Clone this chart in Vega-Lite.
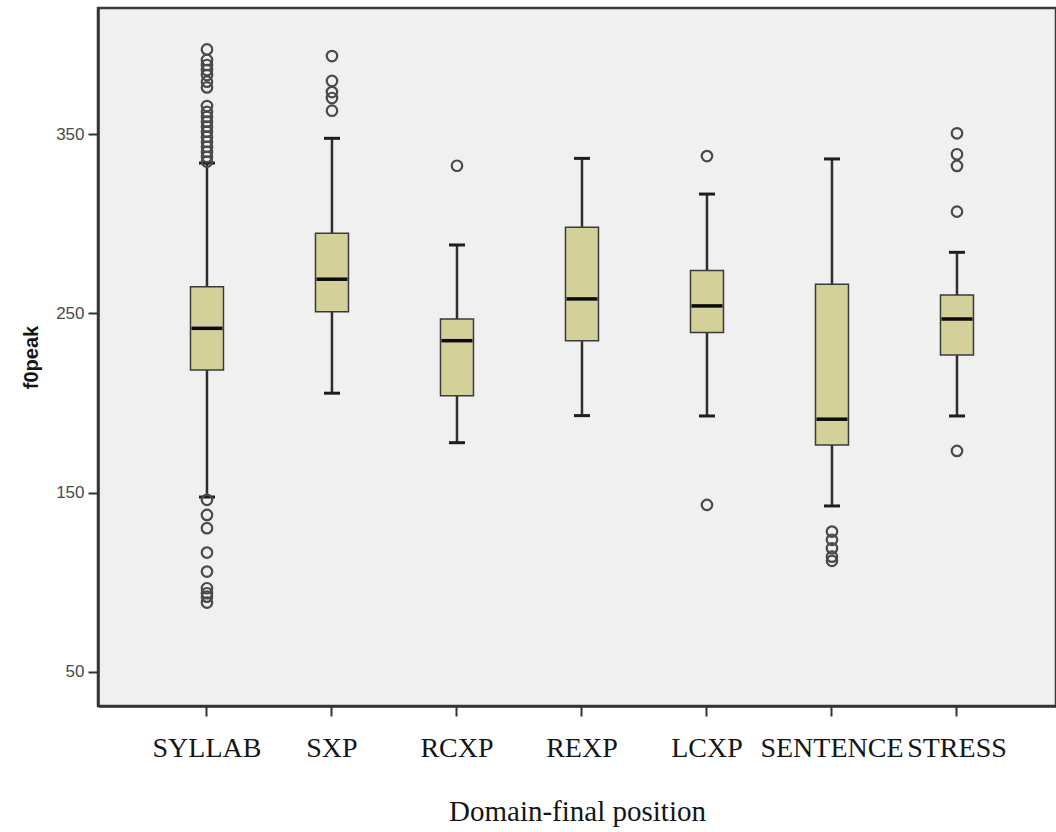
{
  "$schema": "https://vega.github.io/schema/vega-lite/v6.json",
  "autosize": {"type": "none"},
  "padding": {"left": 98, "top": 8, "right": 0, "bottom": 126},
  "width": 958,
  "height": 698,
  "background": "white",
  "config": {
    "view": {"fill": "#F0F0F0", "stroke": "#3a3a3a", "strokeWidth": 2.5},
    "axis": {"grid": false},
    "axisX": {
      "domainColor": "#333333", "domainWidth": 2.5,
      "tickColor": "#333333", "tickWidth": 2, "tickSize": 10,
      "labelFont": "Liberation Serif", "labelFontSize": 28, "labelColor": "#151515",
      "labelPadding": 18, "labelAngle": 0, "labelOverlap": false, "labelLimit": 300,
      "titleFont": "Liberation Serif", "titleFontSize": 29, "titleFontWeight": "normal",
      "titleColor": "#151515", "titlePadding": 35
    },
    "axisY": {
      "domainColor": "#333333", "domainWidth": 2.5,
      "tickColor": "#333333", "tickWidth": 2, "tickSize": 10,
      "labelFont": "Liberation Sans", "labelFontSize": 17, "labelColor": "#4a4a4a",
      "labelPadding": 4,
      "titleFont": "Liberation Sans", "titleFontSize": 20, "titleFontWeight": "bold",
      "titleColor": "#151515", "titlePadding": 14
    }
  },
  "datasets": {
    "stats": [
      {"group": "SYLLAB", "lower": 147.5, "q1": 218.4, "median": 241.6, "q3": 264.8, "upper": 333.8},
      {"group": "SXP", "lower": 205.4, "q1": 250.9, "median": 269.0, "q3": 294.6, "upper": 347.6},
      {"group": "RCXP", "lower": 177.8, "q1": 204.0, "median": 234.7, "q3": 246.8, "upper": 288.1},
      {"group": "REXP", "lower": 192.9, "q1": 234.6, "median": 258.0, "q3": 298.0, "upper": 336.4},
      {"group": "LCXP", "lower": 192.7, "q1": 239.2, "median": 254.1, "q3": 273.8, "upper": 316.5},
      {"group": "SENTENCE", "lower": 142.5, "q1": 176.5, "median": 190.9, "q3": 266.2, "upper": 336.1},
      {"group": "STRESS", "lower": 192.7, "q1": 226.7, "median": 246.8, "q3": 260.2, "upper": 284.0}
    ],
    "outliers": [
      {"group": "SYLLAB", "value": 397.2},
      {"group": "SYLLAB", "value": 391.3},
      {"group": "SYLLAB", "value": 388.5},
      {"group": "SYLLAB", "value": 385.7},
      {"group": "SYLLAB", "value": 382.9},
      {"group": "SYLLAB", "value": 379.2},
      {"group": "SYLLAB", "value": 376.0},
      {"group": "SYLLAB", "value": 365.6},
      {"group": "SYLLAB", "value": 362.4},
      {"group": "SYLLAB", "value": 359.6},
      {"group": "SYLLAB", "value": 356.9},
      {"group": "SYLLAB", "value": 354.1},
      {"group": "SYLLAB", "value": 351.3},
      {"group": "SYLLAB", "value": 348.5},
      {"group": "SYLLAB", "value": 345.7},
      {"group": "SYLLAB", "value": 342.9},
      {"group": "SYLLAB", "value": 340.1},
      {"group": "SYLLAB", "value": 337.3},
      {"group": "SYLLAB", "value": 334.6},
      {"group": "SYLLAB", "value": 145.9},
      {"group": "SYLLAB", "value": 137.5},
      {"group": "SYLLAB", "value": 130.1},
      {"group": "SYLLAB", "value": 116.5},
      {"group": "SYLLAB", "value": 105.9},
      {"group": "SYLLAB", "value": 96.6},
      {"group": "SYLLAB", "value": 93.8},
      {"group": "SYLLAB", "value": 91.9},
      {"group": "SYLLAB", "value": 88.6},
      {"group": "SXP", "value": 393.5},
      {"group": "SXP", "value": 379.6},
      {"group": "SXP", "value": 373.4},
      {"group": "SXP", "value": 370.1},
      {"group": "SXP", "value": 363.0},
      {"group": "RCXP", "value": 332.3},
      {"group": "LCXP", "value": 337.7},
      {"group": "LCXP", "value": 143.1},
      {"group": "SENTENCE", "value": 128.2},
      {"group": "SENTENCE", "value": 123.6},
      {"group": "SENTENCE", "value": 118.9},
      {"group": "SENTENCE", "value": 114.2},
      {"group": "SENTENCE", "value": 111.9},
      {"group": "STRESS", "value": 350.4},
      {"group": "STRESS", "value": 338.7},
      {"group": "STRESS", "value": 332.2},
      {"group": "STRESS", "value": 306.7},
      {"group": "STRESS", "value": 173.2}
    ]
  },
  "encoding": {
    "x": {
      "field": "group", "type": "nominal",
      "sort": ["SYLLAB", "SXP", "RCXP", "REXP", "LCXP", "SENTENCE", "STRESS"],
      "scale": {"paddingInner": 0, "paddingOuter": 0.332, "align": 0.56},
      "title": "Domain-final position"
    }
  },
  "layer": [
    {
      "data": {"name": "stats"},
      "mark": {"type": "rule", "color": "#2e2e2e", "strokeWidth": 2.5, "opacity": 1},
      "encoding": {
        "y": {"field": "lower", "type": "quantitative", "title": "f0peak",
              "scale": {"domain": [30.9, 420.3], "nice": false, "zero": false},
              "axis": {"values": [50, 150, 250, 350]}},
        "y2": {"field": "upper"}
      }
    },
    {
      "data": {"name": "stats"},
      "mark": {"type": "tick", "color": "#1e1e1e", "size": 16, "thickness": 3, "opacity": 1},
      "encoding": {"y": {"field": "lower", "type": "quantitative", "title": "f0peak"}}
    },
    {
      "data": {"name": "stats"},
      "mark": {"type": "tick", "color": "#1e1e1e", "size": 16, "thickness": 3, "opacity": 1},
      "encoding": {"y": {"field": "upper", "type": "quantitative", "title": "f0peak"}}
    },
    {
      "data": {"name": "stats"},
      "mark": {"type": "bar", "size": 33, "fill": "#D4D09A", "stroke": "#3a3a3a", "strokeWidth": 1.5, "opacity": 1},
      "encoding": {
        "y": {"field": "q1", "type": "quantitative", "title": "f0peak"},
        "y2": {"field": "q3"}
      }
    },
    {
      "data": {"name": "stats"},
      "mark": {"type": "tick", "color": "#0a0a0a", "size": 31, "thickness": 3.5, "opacity": 1},
      "encoding": {"y": {"field": "median", "type": "quantitative", "title": "f0peak"}}
    },
    {
      "data": {"name": "outliers"},
      "mark": {"type": "point", "shape": "circle", "filled": false, "size": 110, "strokeWidth": 2.2, "color": "#4a4a4a", "opacity": 1},
      "encoding": {"y": {"field": "value", "type": "quantitative", "title": "f0peak"}}
    }
  ]
}
